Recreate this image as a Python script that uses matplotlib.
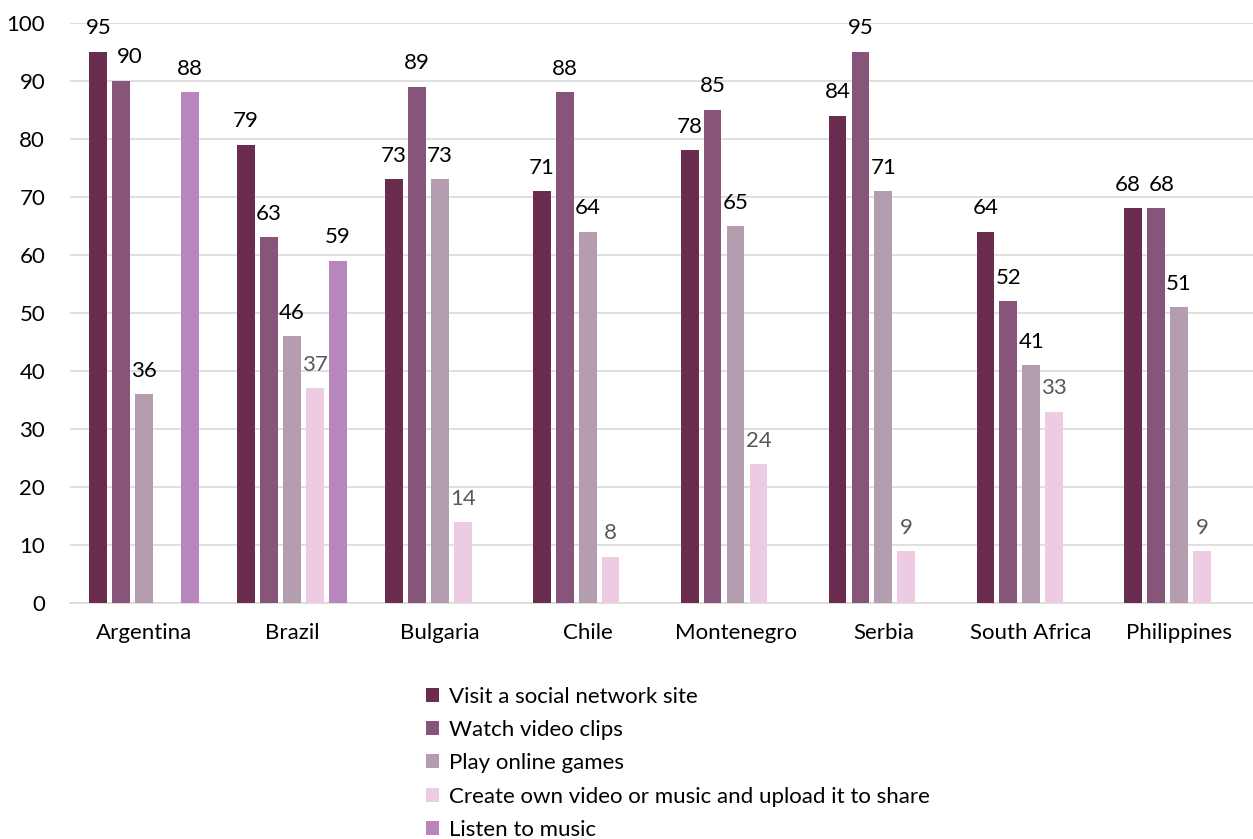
import numpy as np
import matplotlib.pyplot as plt

countries = ["Argentina", "Brazil", "Bulgaria", "Chile", "Montenegro",
             "Serbia", "South Africa", "Philippines"]
series_names = ["Visit a social network site", "Watch video clips",
                "Play online games",
                "Create own video or music and upload it to share",
                "Listen to music"]
visit = [95, 79, 73, 71, 78, 84, 64, 68]
watch = [90, 63, 89, 88, 85, 95, 52, 68]
games = [36, 46, 73, 64, 65, 71, 41, 51]
create = [np.nan, 37, 14, 8, 24, 9, 33, 9]
music = [88, 59, np.nan, np.nan, np.nan, np.nan, np.nan, np.nan]

colors = ["#6A2C4F", "#87557A", "#B39DAF", "#ECCBE3", "#B885BD"]
label_colors = ["#000000", "#000000", "#000000", "#595959", "#000000"]
# small sideways nudges of data labels (series index, country index)
nudge = {(1, 0): 0.06, (0, 7): -0.04, (1, 7): 0.04}

plt.rcParams["font.family"] = ["Lato", "DejaVu Sans"]

fig = plt.figure(figsize=(12.53, 8.39), dpi=100)
ax = fig.add_axes([0.056, 0.281, 0.944, 0.692])

x = np.arange(len(countries))
width = 0.12
step = 0.155
all_series = [visit, watch, games, create, music]
for i, vals in enumerate(all_series):
    vals = np.array(vals, dtype=float)
    pos = x + (i - 2) * step
    ax.bar(pos, vals, width=width, color=colors[i], label=series_names[i],
           zorder=3)
    for j, (p, v) in enumerate(zip(pos, vals)):
        if np.isnan(v):
            continue
        ax.text(p + nudge.get((i, j), 0), v + 2.3, f"{v:.0f}", ha="center",
                va="bottom", fontsize=16, color=label_colors[i])

ax.set_ylim(0, 100)
ax.set_xlim(-0.5, len(countries) - 0.5)
ax.set_yticks(range(0, 101, 10))
ax.set_xticks(x)
ax.set_xticklabels(countries)
ax.tick_params(axis="both", length=0, labelsize=16)
ax.tick_params(axis="y", pad=18)
ax.tick_params(axis="x", pad=14)
ax.grid(axis="y", color="#D9D9D9", linewidth=1.2, zorder=0)
for s in ["top", "right", "left"]:
    ax.spines[s].set_visible(False)
ax.spines["bottom"].set_color("#D9D9D9")
ax.spines["bottom"].set_linewidth(1.2)

fig.legend(loc="upper left", bbox_to_anchor=(0.331, 0.195), frameon=False,
           fontsize=16, handlelength=0.6, handleheight=0.6,
           handletextpad=0.45, labelspacing=0.6, borderpad=0)

fig.savefig("out.png", dpi=100)
